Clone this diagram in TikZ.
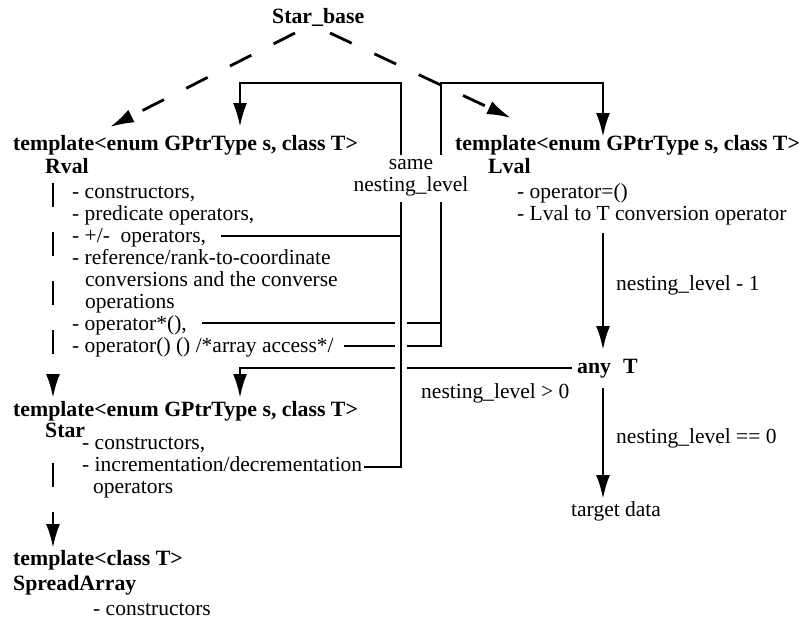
\documentclass[tikz,border=0pt]{standalone}
\usepackage{fontspec}
\setmainfont{Liberation Serif}
\usetikzlibrary{arrows.meta,calc}
\begin{document}
\begin{tikzpicture}[x=1pt,y=-1pt,
  txt/.style={anchor=base west,inner sep=0pt,font=\fontsize{21.5}{22}\selectfont},
  btxt/.style={anchor=base west,inner sep=0pt,font=\fontsize{21.8}{22}\selectfont\bfseries},
  link/.style={line width=2.8pt},
  tip/.style={-{Latex[length=24pt 0,width=14pt 0]}},
  dashlink/.style={link,dash pattern=on 24pt off 25pt},
  mask/.style={draw=white,line width=12pt}
]
\useasboundingbox (0,0) rectangle (803,622);

% ---- base class
\node[btxt] (sb) at (272,23) {Star\_base};

% ---- Rval
\node[btxt] (rvT) at (13,150) {template<enum GPtrType s, class T>};
\node[btxt] (rv)  at (45,173) {Rval};
\node[txt] (r1) at (72,198) {- constructors,};
\node[txt] (r2) at (72,220) {- predicate operators,};
\node[txt] (r3) at (72,242) {- +/-\ \ operators,};
\node[txt] (r4) at (72,264) {- reference/rank-to-coordinate};
\node[txt] (r5) at (85,286) {conversions and the converse};
\node[txt] (r6) at (85,308) {operations};
\node[txt] (r7) at (72,330) {- operator*(),};
\node[txt] (r8) at (72,352) {- operator() () /*array access*/};

% ---- Lval
\node[btxt] (lvT) at (455,150) {template<enum GPtrType s, class T>};
\node[btxt] (lv)  at (488,173) {Lval};
\node[txt] (l1) at (517,198) {- operator=()};
\node[txt] (l2) at (517,220) {- Lval to T conversion operator};

% ---- Star
\node[btxt] (stT) at (13,416) {template<enum GPtrType s, class T>};
\node[btxt] (st)  at (45,437) {Star};
\node[txt] (s1) at (82,449) {- constructors,};
\node[txt] (s2) at (82,471) {- incrementation/decrementation};
\node[txt] (s3) at (93,493) {operators};

% ---- SpreadArray
\node[btxt] (saT) at (13,565) {template<class T>};
\node[btxt] (sa)  at (13,590) {SpreadArray};
\node[txt] (a1) at (93,615) {- constructors};

% ---- element type and target
\node[btxt] (any) at (577,373) {any\hspace{0.55em}T};
\node[txt] (tgt) at (571,516) {target data};

% ---- edge labels
\node[txt] (nl1) at (616,290) {nesting\_level - 1};
\node[txt] (nl0) at (616,443) {nesting\_level == 0};
\node[txt] (nlg) at (421,398) {nesting\_level > 0};

% ---- junction points
\coordinate (sameT) at (401,83);
\coordinate (rvIn)  at (240,127);
\coordinate (lvTop) at (441,83);
\coordinate (lvIn)  at (603,137);
\coordinate (stIn)  at (240,398);
\coordinate (lvOut) at (603,233);
\coordinate (anyIn) at (603,350);
\coordinate (anyOut) at (603,388);
\coordinate (tgtIn) at (603,499);
\coordinate (sbL) at (295,33);
\coordinate (sbR) at (330,33);
\coordinate (rvTip) at (110,127);
\coordinate (lvTip) at (511,118);
\coordinate (rvDown) at (53,183);
\coordinate (stTip) at (53,398);
\coordinate (stDown) at (53,463);
\coordinate (saTip) at (53,548);

\coordinate (opStar) at ($(r7.base east)+(15,-7)$);
\coordinate (opPar)  at ($(r8.base east)+(10,-6)$);
\coordinate (pmEnd)  at ($(r3.base east)+(15,-6)$);
\coordinate (incEnd) at ($(s2.base east)+(2,-4)$);
\coordinate (anyW)   at ($(any.base west)+(-5,-5)$);

% ---- lines that lead to Lval (nesting_level - 1)
\draw[link,tip] (opPar) -| (lvTop) -| (lvIn);
\draw[link] (opStar) -- (opStar -| lvTop);

% ---- any T back to Star
\draw[link,tip] (anyW) -| (stIn);

% ---- gaps where the same-level line crosses
\draw[mask] (401,312) -- (401,380);

% ---- lines that stay on the same nesting level
\draw[link,tip] (incEnd) -| (sameT) -| (rvIn);
\draw[link] (pmEnd) -- (pmEnd -| sameT);

\node[fill=white,align=center,inner xsep=0pt,inner ysep=0pt,minimum height=47pt,
      font=\fontsize{21.5}{22}\selectfont] (same) at (411,178) {same\\nesting\_level};

% ---- nesting level arrows
\draw[link,tip] (lvOut) -- (anyIn);
\draw[link,tip] (anyOut) -- (tgtIn);

% ---- inheritance
\draw[dashlink,tip] (sbL) -- (rvTip);
\draw[dashlink,tip] (sbR) -- (lvTip);
\draw[dashlink,tip] (rvDown) -- (stTip);
\draw[dashlink,tip] (stDown) -- (saTip);
\end{tikzpicture}
\end{document}
